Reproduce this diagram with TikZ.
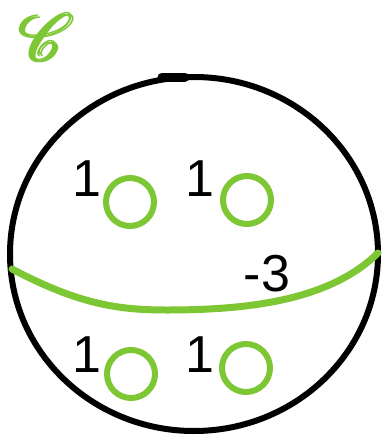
\documentclass[tikz,border=0pt]{standalone}
\usepackage{fontspec}
\setmainfont{Liberation Sans}
\usepackage{amsmath}
\usepackage{mathrsfs}
\usetikzlibrary{shapes.geometric}
\definecolor{leaf}{RGB}{125,198,52}
\begin{document}
\begin{tikzpicture}[x = 1pt, y = -1pt,
	blob/.style = {draw = leaf, line width = 6pt, ellipse, inner sep = 0pt},
	count/.style = {font = \fontsize{52}{52}\selectfont, inner sep = 0pt}]
	\useasboundingbox (0,0) rectangle (383,437);
	% the sphere
	\draw [line width = 6pt] (194,254) ellipse (184pt and 177pt);
	\draw [line width = 9pt, line cap = round] (162,77) -- (185,77);
	% the cutting curve
	\draw [leaf, line width = 7pt, line cap = round] (12,269) .. controls (80,305) and (120,310) .. (167,310)
		.. controls (250,310) and (330,300) .. (378,253);
	\node [inner sep = 0pt] (name) at (48,37) {\color{leaf}\scalebox{6.6}{$\pmb{\mathscr{C}}$}};
	% small discs with their weights
	\foreach \nm/\x/\y in {tl/130/202, tr/247/200, bl/131/374, br/246/368}{
	\draw (\x,\y) node [blob, minimum width = 48pt, minimum height = 48pt] (\nm) {};
	}
	\node [count] (wtl) at (87,179) {1};
	\node [count] (wtr) at (200,179) {1};
	\node [count] (wbl) at (87,355) {1};
	\node [count] (wbr) at (200,355) {1};
	\node [count] (wcut) at (267,274) {-3};
\end{tikzpicture}
\end{document}
